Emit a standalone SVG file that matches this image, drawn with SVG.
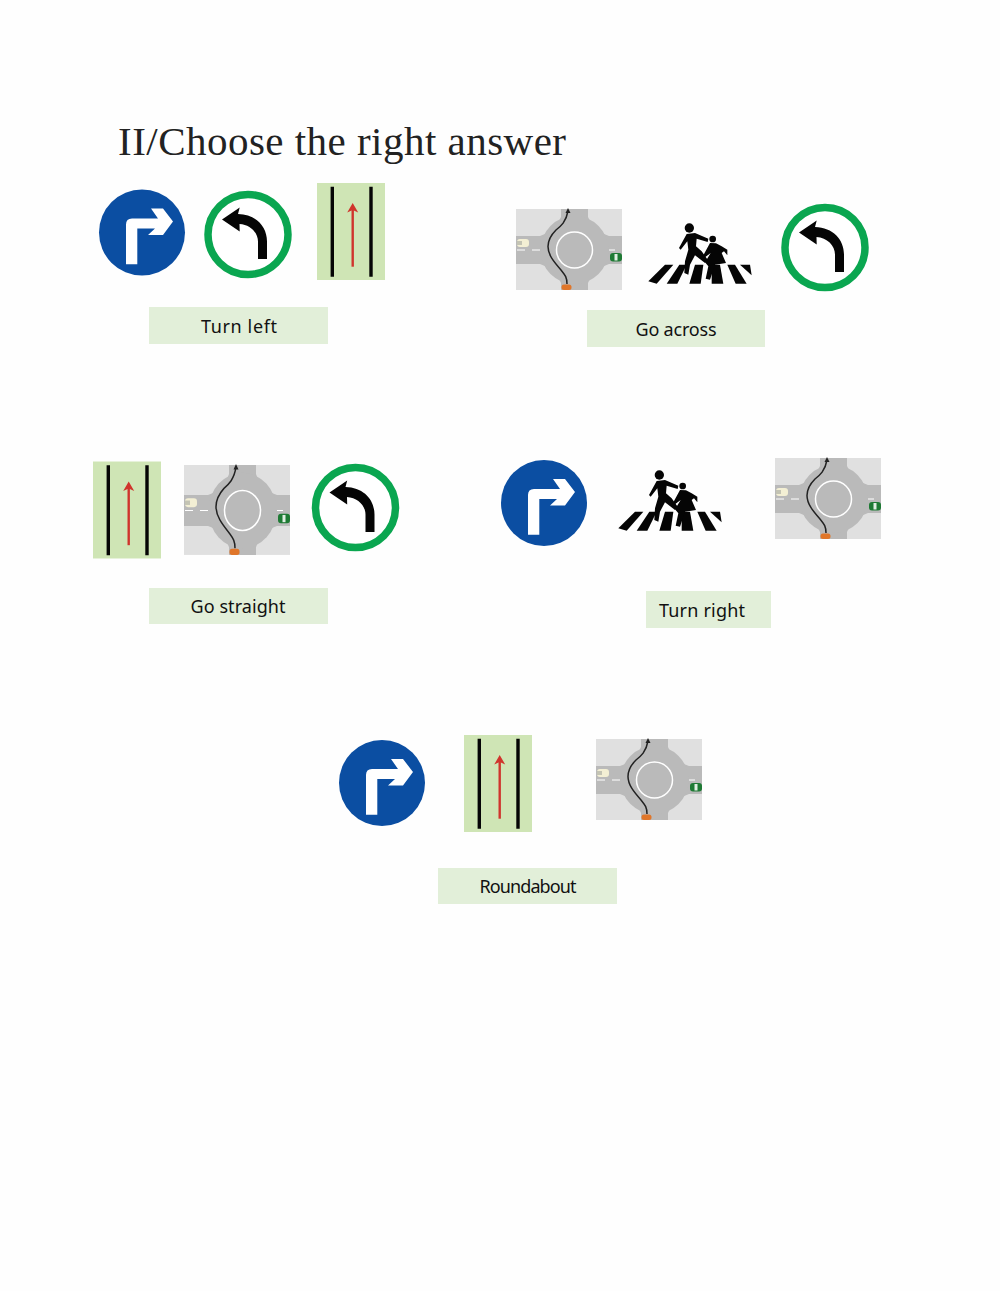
<svg xmlns="http://www.w3.org/2000/svg" width="1000" height="1291" viewBox="0 0 1000 1291">
<style>
.lbl{fill:#e2efd9}
.t{font-family:"Noto Sans","DejaVu Sans",sans-serif;font-size:18px;fill:#111;text-anchor:middle}
.title{font-family:"Liberation Serif","DejaVu Serif",serif;font-size:41px;fill:#222}
</style>
<defs>
<g id="blue">
<circle r="43" fill="#0b4ea2"/>
<path fill="#fff" d="M-16,31.800V-8Q-16,-14 -10,-14H16L9,-24H21L31,-11L21,2.500H6L13,-4H-4.700V31.800Z"/>
</g>
<g id="green">
<circle r="40" fill="#fff" stroke="#0aa650" stroke-width="7.500"/>
<path fill="#050505" d="M-26,-15L-8.300,-27L-10,-20.500C8,-20 19,-8 19,7V24.500H10V7C10,-2 2,-10 -8.500,-10.500L-8.300,-3Z"/>
</g>
<g id="lane">
<rect width="68" height="97" fill="#cfe5b5"/>
<path d="M15.300,3.700V93.700M54,3.700V93.700" stroke="#050505" stroke-width="3.400" fill="none"/>
<path d="M35.700,26V83.700" stroke="#d0342c" stroke-width="2.400" fill="none"/>
<path d="M30.200,29.500L35.700,20L41.200,29.500L35.700,27Z" fill="#d0342c"/>
</g>
<g id="rb">
<rect width="106" height="81" fill="#e0e0e0"/>
<path fill="#bababa" d="M45,0H72V12H45ZM45,69H72V81H45ZM0,27H30V55H0ZM88,27H106V55H88Z"/>
<path fill="#bababa" d="M45,8Q40,22 24,27L50,35ZM72,8Q77,22 93,27L67,35ZM45,74Q40,60 24,55L50,47ZM72,74Q77,60 93,55L67,47Z"/>
<circle cx="58.500" cy="41" r="34" fill="#bababa"/>
<circle cx="58.500" cy="41" r="18" fill="#bababa" stroke="#fff" stroke-width="1.500"/>
<path d="M1,41H9M16,41H24M93,41H99" stroke="#fff" stroke-width="1" fill="none"/>
<path d="M51,75C51,68 49,66 45,61C38,53 32,46 32,37.500C32,30 36,25 40,21C45,17 50,13 52,2" stroke="#222" stroke-width="1.500" fill="none"/>
<path d="M49.500,4L52,-1L54.500,4Z" fill="#222"/>
<rect x="45.500" y="75.500" width="10" height="5.500" rx="2.500" fill="#e0762a"/>
<rect x="94" y="44" width="12" height="8.500" rx="3" fill="#1e7a34"/>
<rect x="98.500" y="45" width="3" height="6.500" fill="#dfeee2"/>
<rect x="1" y="30" width="12" height="8" rx="3" fill="#f3efd4"/>
<rect x="1" y="32" width="5" height="4" fill="#c4c4b4"/>
</g>
<g id="ped" fill="#050505">
<g transform="translate(640,218) scale(.33333)">
<path d="M75,140H100L50,197L25,190Z"/>
<path d="M118,140H140L112,197H80Z"/>
<path d="M165,140H190L182,197H148Z"/>
<path d="M215,140H240L250,197H215Z"/>
<path d="M262,140H285L320,197H287Z"/>
<path d="M300,140H330L335,172Z"/>
<circle cx="148" cy="30" r="14"/>
<path d="M140,48L165,45L205,62L203,72L170,62L168,85L185,100L203,125L195,135L165,112L150,140L145,170L133,165L135,130L145,95L142,70L122,95L117,90Z"/>
<circle cx="218" cy="63" r="10"/>
<path d="M210,75L228,76L245,85L262,95L262,112L252,100L245,105L258,135L225,140L210,185L197,182L205,145L195,133L212,105L195,118L190,112Z"/>
</g>
</g>
</defs>
<rect width="1000" height="1291" fill="#fefefe"/>
<text class="title" x="118" y="155" textLength="448" lengthAdjust="spacing">II/Choose the right answer</text>
<g id="q1">
<use href="#blue" x="142" y="232.500"/>
<use href="#green" x="248" y="234.500"/>
<use href="#lane" x="317" y="183"/>
<rect class="lbl" x="149" y="307" width="179" height="37"/>
<text class="t" x="239" y="333" textLength="76">Turn left</text>
</g>
<g id="q2">
<use href="#rb" x="516" y="209"/>
<use href="#ped"/>
<use href="#green" x="825" y="247.500"/>
<rect class="lbl" x="587" y="310" width="178" height="37"/>
<text class="t" x="676" y="336" textLength="81">Go across</text>
</g>
<g id="q3">
<use href="#lane" x="93" y="461.500"/>
<use href="#rb" transform="translate(184,465) scale(1,1.110)"/>
<use href="#green" x="355.500" y="507.500"/>
<rect class="lbl" x="149" y="588" width="179" height="36"/>
<text class="t" x="238" y="613" textLength="95">Go straight</text>
</g>
<g id="q4">
<use href="#blue" x="544" y="503"/>
<use href="#ped" x="-30" y="247"/>
<use href="#rb" x="775" y="458"/>
<rect class="lbl" x="646" y="591" width="125" height="37"/>
<text class="t" x="702" y="617" textLength="86">Turn right</text>
</g>
<g id="q5">
<use href="#blue" x="382" y="783"/>
<use href="#lane" x="464" y="735"/>
<use href="#rb" x="596" y="739"/>
<rect class="lbl" x="438" y="868" width="179" height="36"/>
<text class="t" x="528" y="893" textLength="97">Roundabout</text>
</g>
</svg>
